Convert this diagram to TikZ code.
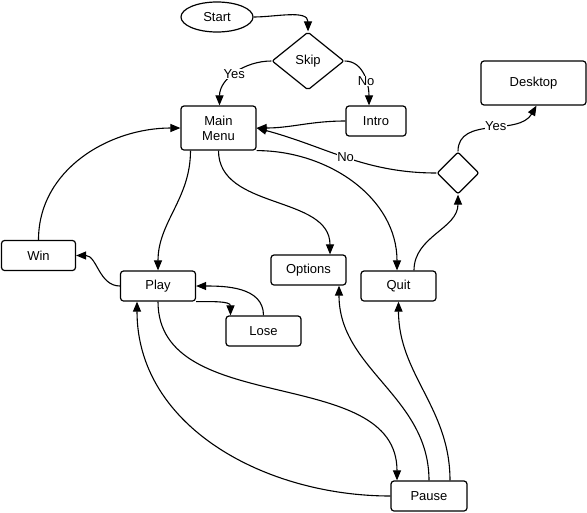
\documentclass[tikz,border=0pt]{standalone}
\usepackage{fontspec}
\setmainfont{Liberation Sans}
\usetikzlibrary{shapes.geometric, arrows.meta}

\begin{document}
\begin{tikzpicture}[x=1pt, y=-1pt,
		box/.style={draw, rounded corners=3pt, line width=1.2pt, minimum width=75pt, minimum height=30pt, inner sep=0pt, align=center, font=\fontsize{13}{15}\selectfont},
		choice/.style={draw, diamond, rounded corners=2pt, line width=1.2pt, inner sep=0pt, font=\fontsize{13}{15}\selectfont},
		flow/.style={-{Triangle[length=10pt, width=8pt]}, line width=1.1pt},
		tag/.style={fill=white, inner sep=0.5pt, font=\fontsize{13}{15}\selectfont}
		]
		\useasboundingbox (0,0) rectangle (587,512);
		
		% Entry
		\node[draw, ellipse, line width=1.2pt, minimum width=72pt, minimum height=30pt, inner sep=0pt, font=\fontsize{13}{15}\selectfont] (start) at (217,17) {Start};
		\node[choice, minimum width=72pt, minimum height=58pt] (skip) at (308,61) {Skip};
		\node[box, minimum width=60pt] (intro) at (376,121) {Intro};
		\node[box, minimum height=44pt] (menu) at (218.5,128) {Main\\Menu};
		
		% Exit
		\node[choice, minimum width=42pt, minimum height=42pt] (sure) at (458,173) {};
		\node[box, minimum width=105pt, minimum height=44pt] (desktop) at (533.5,83) {Desktop};
		
		% Game states
		\node[box, minimum width=74pt] (win) at (38.5,255.5) {Win};
		\node[box] (play) at (158,286) {Play};
		\node[box] (lose) at (263.5,331) {Lose};
		\node[box] (options) at (308.5,270) {Options};
		\node[box] (quit) at (398.5,286) {Quit};
		\node[box, minimum width=76pt] (pause) at (429,496) {Pause};
		
		\draw[flow] (start.east) to[out=0, in=90] (skip.north);
		\draw[flow] (skip.west) to[out=180, in=90] node[tag, pos=0.52] (yesA) {Yes} ([xshift=1pt]menu.north);
		\draw[flow] (skip.east) to[out=0, in=90] node[tag, pos=0.6] (noA) {No} ([xshift=-7pt]intro.north);
		\draw[flow] (intro.west) to[out=180, in=0] (menu.east);
		\draw[flow] (sure.west) to[out=180, in=-15] node[tag, pos=0.5] (noB) {No} (menu.east);
		\draw[flow] (sure.north) to[out=90, in=-120] node[tag, pos=0.55] (yesB) {Yes} ([xshift=3pt]desktop.south);
		\draw[flow] ([xshift=15.5pt]quit.north) to[out=90, in=-90] (sure.south);
		
		% Menu choices
		\draw[flow] ([xshift=-28pt]menu.south) to[out=-90, in=90] (play.north);
		\draw[flow] (menu.south) to[out=-90, in=90] ([xshift=21.5pt]options.north);
		\draw[flow] (menu.south east) to[out=0, in=90] ([xshift=-1.5pt]quit.north);
		
		% Game loop
		\draw[flow] (win.north) to[out=90, in=180] (menu.west);
		\draw[flow] (play.west) to[out=180, in=0] (win.east);
		\draw[flow] (play.south east) to[out=0, in=90] ([xshift=-33pt]lose.north);
		\draw[flow] (lose.north) to[out=90, in=0] (play.east);
		\draw[flow] (play.south) to[out=-90, in=90] ([xshift=-32pt]pause.north);
		\draw[flow] (pause.west) to[out=180, in=-90] ([xshift=-21pt]play.south);
		\draw[flow] (pause.north) to[out=90, in=-90] ([xshift=30.5pt]options.south);
		\draw[flow] ([xshift=21pt]pause.north) to[out=90, in=-90] (quit.south);
		
	\end{tikzpicture}
\end{document}
